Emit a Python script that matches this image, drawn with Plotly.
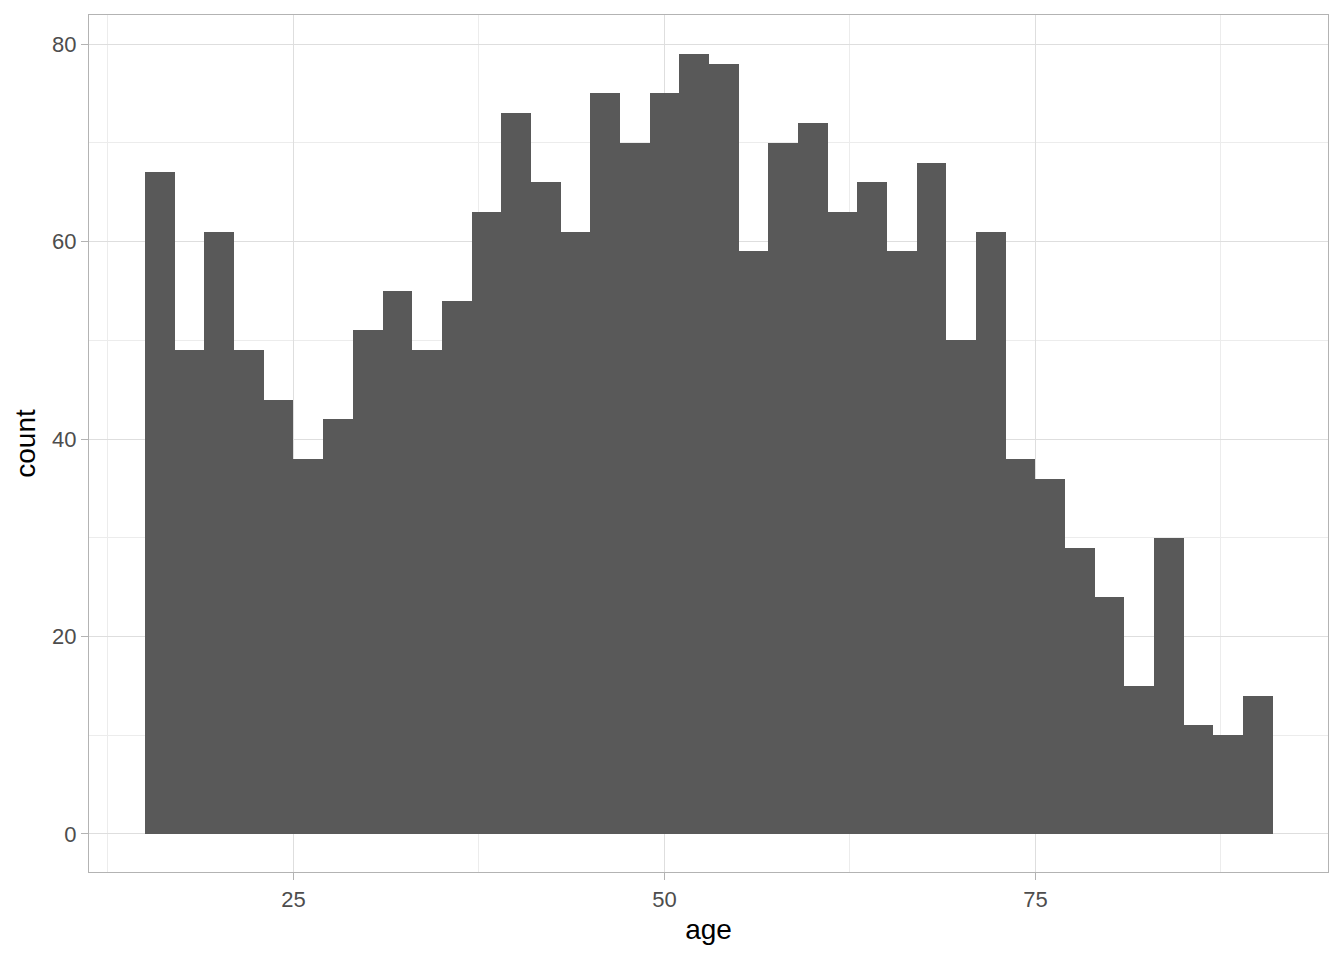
import plotly.graph_objects as go

# Histogram bins (age), width 2, from 15 to 91
bin_left_edges = [15, 17, 19, 21, 23, 25, 27, 29, 31, 33, 35, 37, 39, 41, 43, 45, 47, 49, 51,
                  53, 55, 57, 59, 61, 63, 65, 67, 69, 71, 73, 75, 77, 79, 81, 83, 85, 87, 89]
bin_width = 2
counts = [67, 49, 61, 49, 44, 38, 42, 51, 55, 49, 54, 63, 73, 66, 61, 75, 70, 75, 79,
          78, 59, 70, 72, 63, 66, 59, 68, 50, 61, 38, 36, 29, 24, 15, 30, 11, 10, 14]

x_ticks = [25, 50, 75]
y_ticks = [0, 20, 40, 60, 80]

centers = [e + bin_width / 2 for e in bin_left_edges]

fig = go.Figure(go.Bar(
    x=centers, y=counts, width=bin_width,
    marker=dict(color="#595959", line=dict(width=0)),
    hoverinfo="x+y",
))

grid_major = "#dedede"
grid_minor = "#ececec"
border = "#b3b3b3"

fig.update_layout(
    width=1344, height=960,
    margin=dict(l=81, r=24, t=7, b=96),
    plot_bgcolor="white", paper_bgcolor="white",
    font=dict(family="Liberation Sans, Arial, sans-serif", color="#4d4d4d", size=22),
    bargap=0, showlegend=False,
    xaxis=dict(
        range=[11.22, 94.72], tickvals=x_ticks, ticktext=[str(v) for v in x_ticks],
        showgrid=True, gridcolor=grid_major, gridwidth=1,
        minor=dict(tickvals=[12.5, 37.5, 62.5, 87.5], showgrid=True, gridcolor=grid_minor, gridwidth=1, ticks=""),
        zeroline=False, showline=True, linecolor=border, linewidth=1.3, mirror=True,
        ticks="outside", ticklen=7, tickcolor=border, tickwidth=1.3,
        tickfont=dict(size=22, color="#4d4d4d"),
        title=dict(text="age", font=dict(size=28, color="black"), standoff=8),
    ),
    yaxis=dict(
        range=[-3.85, 82.94], tickvals=y_ticks, ticktext=[str(v) for v in y_ticks],
        showgrid=True, gridcolor=grid_major, gridwidth=1,
        minor=dict(tickvals=[10, 30, 50, 70], showgrid=True, gridcolor=grid_minor, gridwidth=1, ticks=""),
        zeroline=False, showline=True, linecolor=border, linewidth=1.3, mirror=True,
        ticks="outside", ticklen=7, tickcolor=border, tickwidth=1.3,
        tickfont=dict(size=22, color="#4d4d4d"),
        title=dict(text="count", font=dict(size=28, color="black"), standoff=8),
    ),
)

fig.write_html("out.html")
